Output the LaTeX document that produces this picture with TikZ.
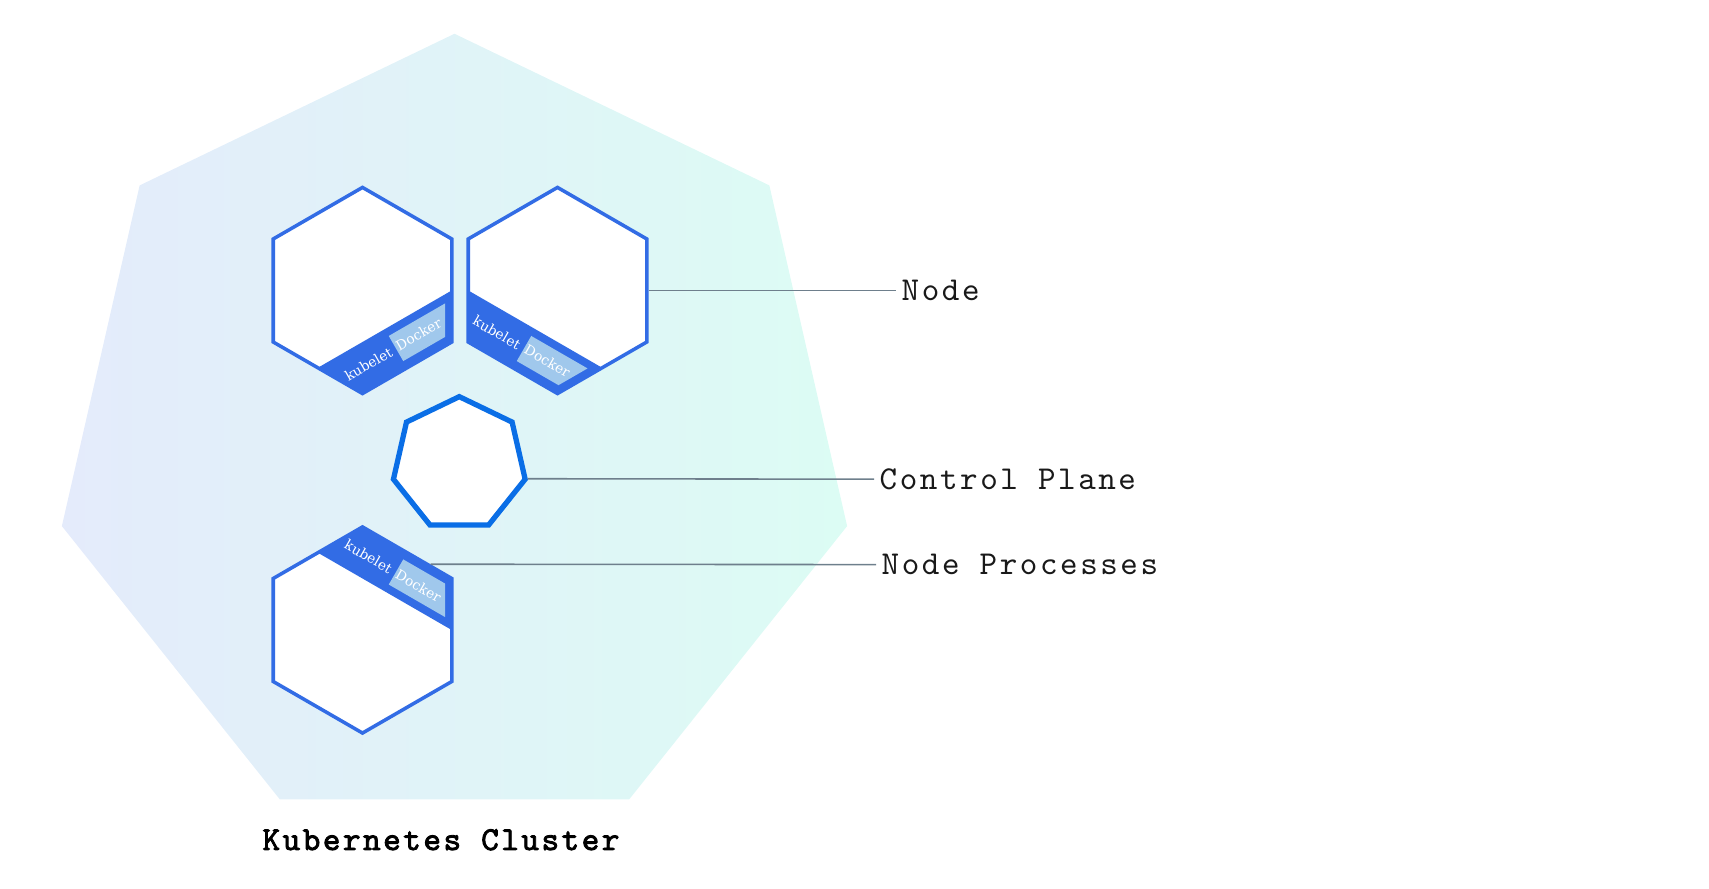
\documentclass[tikz,border=0pt]{standalone}
\usepackage{fontspec}
\usetikzlibrary{calc,shapes.geometric}

\newfontfamily\labelfont{lmmono10-regular.otf}[LetterSpace = 7.7]
\newfontfamily\clusterfont{lmmono10-regular.otf}[FakeBold = 2.5, LetterSpace = 7.7]
\newfontfamily\slabfont{DejaVu Serif}

\definecolor{k8sblue}{HTML}{326CE5}
\definecolor{dockerblue}{HTML}{A0C8EC}
\definecolor{planeblue}{HTML}{0A6EE6}
\definecolor{leadergray}{HTML}{6E7F8C}
\definecolor{clusterleft}{HTML}{E4EBFB}
\definecolor{clusterright}{HTML}{DCFCF4}

\tikzset{
  clustershape/.style = {regular polygon, regular polygon sides = 7, minimum size = 8.05cm, inner sep = 0pt, left color = clusterleft, right color = clusterright},
  hexshape/.style = {regular polygon, regular polygon sides = 6, shape border rotate = 30, minimum size = 2.06cm, inner sep = 0pt, draw = k8sblue, line width = 1pt, fill = white},
  planeshape/.style = {regular polygon, regular polygon sides = 7, minimum size = 1.35cm, inner sep = 0pt, draw = planeblue, line width = 1.5pt, fill = white},
  proctext/.style = {text = white, font = \slabfont\fontsize{3.9}{5}\selectfont, inner sep = 0pt},
  leaderline/.style = {draw = leadergray, line width = 0.45pt},
  tagtext/.style = {anchor = west, inner xsep = 0.05cm, inner ysep = 0pt, text = black!90, font = \labelfont\fontsize{9.5}{11}\selectfont}
}

% A worker node: hexagon with its kubelet / Docker band.
\newcommand{\workernode}[5]{%
  \node (#1) at (#2) [hexshape] {};
  \begin{scope}[shift = {(#2)}, rotate = #3, yscale = #4]
    \fill [k8sblue] (0:89.2) -- (-30:103) -- (-90:103) -- (-120:89.2) -- cycle;
    \fill [dockerblue] (26.25, -45.47) -- (82.5, -12.97) -- (82.5, -46.48) -- (40.75, -70.58) -- cycle;
    \node (#1docker) at (56, -44) [proctext, rotate = #5] {Docker};
    \node (#1kubelet) at (6, -73.5) [proctext, rotate = #5] {kubelet};
  \end{scope}}

\begin{document}
\begin{tikzpicture}[x = 0.01cm, y = 0.01cm]

        % Size of the whole picture.
        \useasboundingbox (0, 0) rectangle (1709, -889);

        % The cluster and its name.
        \node (cluster) at (454.5, -436.5) [clustershape] {};
        \node (clustername) at (441, -850) [anchor = base, inner sep = 0pt, font = \clusterfont\fontsize{9.5}{11}\selectfont] {Kubernetes Cluster};

        % The three worker nodes.
        \workernode{nodeA}{362.5, -290.5}{0}{1}{30}
        \workernode{nodeB}{557.5, -290.5}{-60}{1}{-30}
        \workernode{nodeC}{362.5, -630}{0}{-1}{-30}

        % The control plane.
        \node (plane) at (459.3, -464.2) [planeshape] {};

        % Labels on the right.
        \node (nodetag) at (896, -290.5) [tagtext] {Node};
        \node (planetag) at (874, -479.2) [tagtext] {Control Plane};
        \node (proctag) at (876, -564.6) [tagtext] {Node Processes};

        % Leader lines to the labels.
        \draw [leaderline] (nodeB.0) to (nodetag.west);
        \draw [leaderline] (plane.-12.857) to (planetag.west);
        \draw [leaderline] (nodeC.44.7) to (proctag.west);
\end{tikzpicture}
\end{document}
